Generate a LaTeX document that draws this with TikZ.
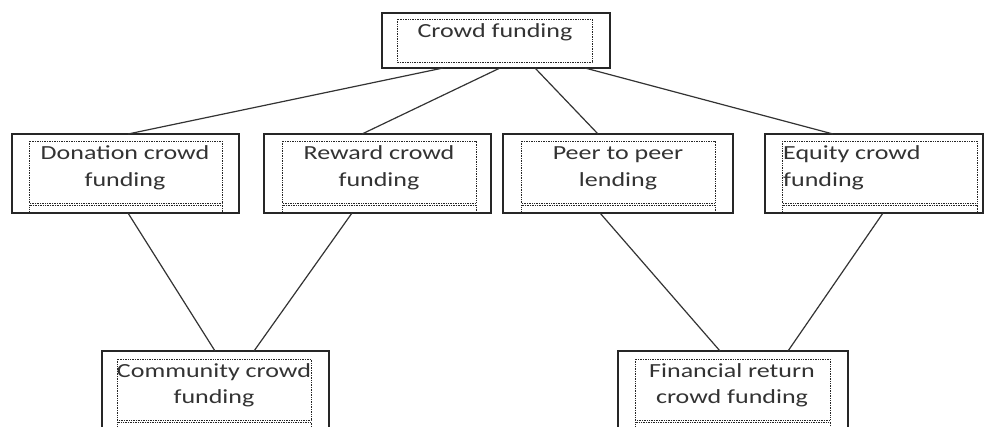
\documentclass[tikz,border=0pt]{standalone}
\usepackage{fontspec}
\setmainfont{Carlito}[FakeStretch=1.3]
\begin{document}
\begin{tikzpicture}[x=1pt,y=-1pt,
  box/.style={draw=black!85, line width=1.3pt, inner sep=0pt, outer sep=0pt, anchor=north west},
  dotbox/.style={draw=black!85, line width=0.9pt, dash pattern=on 0.8pt off 0.9pt},
  link/.style={draw=black!80, line width=1.2pt},
  lbl/.style={font=\fontsize{20}{27}\selectfont, text=black!80, anchor=base, inner sep=0pt}]
\useasboundingbox (0,0) rectangle (984,426);
\clip (0,0) rectangle (984,426);
\fill[white] (0,0) rectangle (984,426);

% outer boxes
\node[box, minimum width=228pt, minimum height=55pt] (top) at (382,13) {};
\node[box, minimum width=227pt, minimum height=79pt] (don) at (12,134) {};
\node[box, minimum width=227pt, minimum height=79pt] (rew) at (264,134) {};
\node[box, minimum width=230pt, minimum height=79pt] (peer) at (503,134) {};
\node[box, minimum width=218pt, minimum height=79pt] (eq) at (765,134) {};
\node[box, minimum width=227pt, minimum height=100pt] (com) at (102,351) {};
\node[box, minimum width=230pt, minimum height=100pt] (fin) at (618,351) {};

% inner dotted frames
\draw[dotbox] (397,19) rectangle (592,62);
\foreach \a/\b in {29/222, 282/476, 521/715, 782/977}{
  \draw[dotbox] (\a,141) rectangle (\b,203);
  \draw[dotbox] (\a,213) -- (\a,205) -- (\b,205) -- (\b,213);
}
\foreach \a/\b in {117/311, 635/830}{
  \draw[dotbox] (\a,359) rectangle (\b,420);
  \draw[dotbox] (\a,440) -- (\a,422) -- (\b,422) -- (\b,440);
}

% texts
\node[lbl] (tTop) at (495,37) {Crowd funding};
\node[lbl] (tDon1) at (125,159) {Donation crowd};
\node[lbl] (tDon2) at (125,186) {funding};
\node[lbl] (tRew1) at (379,159) {Reward crowd};
\node[lbl] (tRew2) at (379,186) {funding};
\node[lbl] (tPeer1) at (618,159) {Peer to peer};
\node[lbl] (tPeer2) at (618,186) {lending};
\node[lbl, anchor=base west] (tEq1) at (783,159) {Equity crowd};
\node[lbl, anchor=base west] (tEq2) at (783,186) {funding};
\node[lbl] (tCom1) at (214,377) {Community crowd};
\node[lbl] (tCom2) at (214,403) {funding};
\node[lbl] (tFin1) at (732,377) {Financial return};
\node[lbl] (tFin2) at (732,403) {crowd funding};

% connectors
\draw[link] ([xshift=61pt]top.south west) -- ([xshift=116pt]don.north west);
\draw[link] ([xshift=118pt]top.south west) -- ([xshift=98pt]rew.north west);
\draw[link] ([xshift=153pt]top.south west) -- ([xshift=95pt]peer.north west);
\draw[link] ([xshift=203pt]top.south west) -- ([xshift=68pt]eq.north west);
\draw[link] ([xshift=116pt]don.south west) -- ([xshift=113pt]com.north west);
\draw[link] ([xshift=88pt]rew.south west) -- ([xshift=152pt]com.north west);
\draw[link] ([xshift=97pt]peer.south west) -- ([xshift=102pt]fin.north west);
\draw[link] ([xshift=118pt]eq.south west) -- ([xshift=170pt]fin.north west);
\end{tikzpicture}
\end{document}
